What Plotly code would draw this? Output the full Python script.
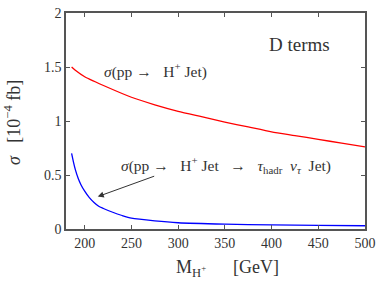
import plotly.graph_objects as go

red_x = [186, 190, 200, 225, 250, 275, 300, 325, 350, 375, 400, 425, 450, 475, 500]
red_y = [1.50, 1.47, 1.41, 1.31, 1.22, 1.15, 1.09, 1.04, 0.99, 0.945, 0.90, 0.865, 0.83, 0.795, 0.76]

blue_x = [186, 188, 190, 193, 196, 200, 205, 210, 215, 220, 230, 240, 250, 275, 300, 350, 400, 450, 500]
blue_y = [0.70, 0.62, 0.55, 0.47, 0.41, 0.35, 0.29, 0.245, 0.21, 0.19, 0.155, 0.125, 0.10, 0.075, 0.058, 0.045, 0.038, 0.034, 0.030]

x_ticks = [200, 250, 300, 350, 400, 450, 500]
y_ticks = [0, 0.5, 1, 1.5, 2]
y_ticklabels = ["0", "0.5", "1", "1.5", "2"]

FONT = "Liberation Serif"
GREY = "#555555"
TXT = "#333333"

fig = go.Figure()
fig.add_trace(go.Scatter(x=red_x, y=red_y, mode="lines", line=dict(color="#ff0000", width=1.3, shape="spline", smoothing=0.6)))
fig.add_trace(go.Scatter(x=blue_x, y=blue_y, mode="lines", line=dict(color="#0000ff", width=1.3, shape="spline", smoothing=0.6)))

fig.update_layout(
    width=382, height=283,
    margin=dict(l=66, r=13, t=6, b=54),
    plot_bgcolor="white", paper_bgcolor="white",
    showlegend=False,
    font=dict(family=FONT, size=14, color=TXT),
    xaxis=dict(range=[180, 500], tickvals=x_ticks, ticks="inside", ticklen=4,
               showline=True, linecolor=GREY, linewidth=1.5, mirror="ticks",
               showgrid=False, zeroline=False, tickcolor=GREY,
               tickfont=dict(family=FONT, size=14, color=TXT)),
    yaxis=dict(range=[0, 2], tickvals=y_ticks, ticktext=y_ticklabels, ticks="inside", ticklen=4,
               showline=True, linecolor=GREY, linewidth=1.5, mirror="ticks",
               showgrid=False, zeroline=False, tickcolor=GREY,
               tickfont=dict(family=FONT, size=14, color=TXT)),
)

# axis titles
fig.add_annotation(x=0.541, y=-0.181, xref="paper", yref="paper", showarrow=False,
                   text="M<sub>H<sup>+</sup></sub>      [GeV]", font=dict(family=FONT, size=18, color=TXT),
                   xanchor="center", yanchor="middle")
fig.add_annotation(x=-0.178, y=0.494, xref="paper", yref="paper", showarrow=False, textangle=-90,
                   text="<i>σ</i>   [10<sup>−4</sup> fb]", font=dict(family=FONT, size=18, color=TXT),
                   xanchor="center", yanchor="middle")

fig.add_annotation(x=430, y=1.705, text="D terms", showarrow=False,
                   font=dict(family=FONT, size=19, color=TXT), xanchor="center", yanchor="middle")
fig.add_annotation(x=219, y=1.47, text="<i>σ</i>(pp →   H<sup>+</sup> Jet)", showarrow=False,
                   font=dict(family=FONT, size=15.5, color=TXT), xanchor="left", yanchor="middle")
fig.add_annotation(x=237, y=0.59, text="<i>σ</i>(pp →   H<sup>+</sup> Jet   →   <i>τ</i><sub>hadr</sub>  <i>ν</i><sub><i>τ</i></sub>  Jet)", showarrow=False,
                   font=dict(family=FONT, size=15.5, color=TXT), xanchor="left", yanchor="middle")
fig.add_annotation(x=214, y=0.30, ax=276, ay=0.494, xref="x", yref="y", axref="x", ayref="y",
                   text="", showarrow=True, arrowhead=2, arrowsize=1.2, arrowwidth=1, arrowcolor="#333333")

fig.write_html("out.html", post_script="document.body.style.margin='0px';",
               config={"displayModeBar": False})
